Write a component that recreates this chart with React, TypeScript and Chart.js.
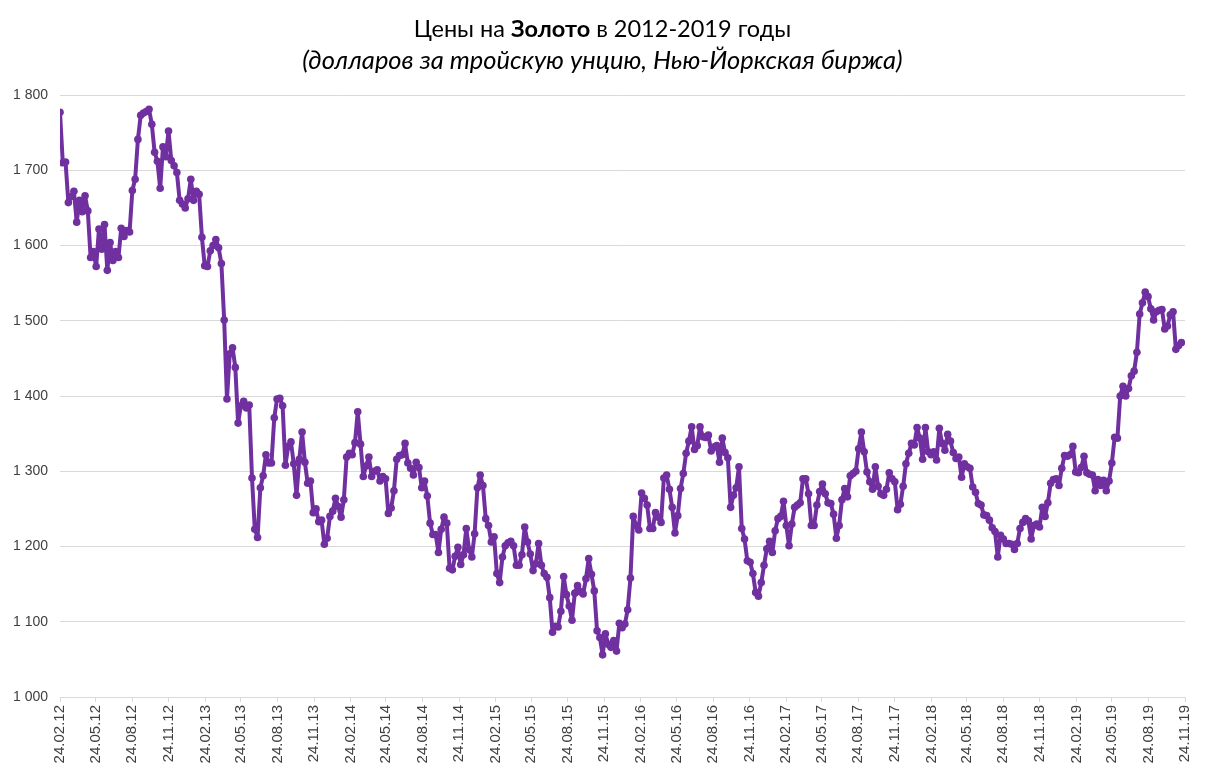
import React, { useEffect, useRef } from "react";
import { Chart, registerables } from "chart.js";

Chart.register(...registerables);

const START_DATE = "24.02.12";

const TICK_LABELS = [
  "24.02.12", "24.05.12", "24.08.12", "24.11.12",
  "24.02.13", "24.05.13", "24.08.13", "24.11.13",
  "24.02.14", "24.05.14", "24.08.14", "24.11.14",
  "24.02.15", "24.05.15", "24.08.15", "24.11.15",
  "24.02.16", "24.05.16", "24.08.16", "24.11.16",
  "24.02.17", "24.05.17", "24.08.17", "24.11.17",
  "24.02.18", "24.05.18", "24.08.18", "24.11.18",
  "24.02.19", "24.05.19", "24.08.19", "24.11.19",
];

const Y_TICKS = [1000, 1100, 1200, 1300, 1400, 1500, 1600, 1700, 1800];

// weekly gold price, USD per troy ounce
const PRICES_2012 = [
  1777, 1710, 1711, 1657, 1665, 1672, 1631, 1660, 1645, 1666,
  1646, 1584, 1592, 1572, 1622, 1595, 1628, 1567, 1604, 1580,
  1592, 1584, 1623, 1612, 1620, 1618, 1673, 1688, 1741, 1773,
  1776, 1778, 1781, 1761, 1724, 1712, 1676, 1731, 1718, 1752,
  1713, 1706, 1697, 1660, 1655, 1650, 1662, 1688, 1660, 1672,
  1668,
];
const PRICES_2013 = [
  1611, 1573, 1572, 1593, 1600, 1608, 1597, 1576, 1501, 1396,
  1456, 1464, 1438, 1364, 1387, 1393, 1384, 1388, 1291, 1223,
  1212, 1278, 1294, 1322, 1311, 1311, 1371, 1396, 1397, 1387,
  1308, 1333, 1339, 1310, 1268, 1316, 1352, 1312, 1284, 1287,
  1245, 1250, 1233, 1235, 1203, 1211, 1240, 1247, 1264, 1253,
];
const PRICES_2014 = [
  1239, 1262, 1319, 1324, 1322, 1338, 1379, 1336, 1293, 1307,
  1319, 1293, 1300, 1302, 1287, 1293, 1290, 1244, 1251, 1274,
  1316, 1321, 1322, 1337, 1311, 1304, 1295, 1312, 1305, 1278,
  1287, 1267, 1231, 1216, 1216, 1192, 1223, 1239, 1231, 1171,
  1169, 1187, 1199, 1176, 1189, 1224, 1196, 1186, 1217, 1278,
];
const PRICES_2015 = [
  1295, 1281, 1237, 1228, 1206, 1213, 1164, 1152, 1186, 1201,
  1205, 1207, 1201, 1175, 1175, 1189, 1226, 1206, 1190, 1168,
  1177, 1204, 1175, 1164, 1159, 1132, 1086, 1094, 1093, 1114,
  1160, 1136, 1121, 1102, 1138, 1148, 1140, 1137, 1157, 1184,
  1163, 1141, 1088, 1079, 1056, 1084, 1070, 1066, 1075, 1061,
];
const PRICES_2016 = [
  1098, 1092, 1097, 1116, 1158, 1240, 1228, 1222, 1271, 1264,
  1255, 1224, 1224, 1245, 1239, 1232, 1291, 1295, 1276, 1252,
  1218, 1241, 1277, 1297, 1324, 1340, 1359, 1329, 1334, 1359,
  1346, 1345, 1348, 1327, 1332, 1334, 1312, 1344, 1325, 1318,
  1252, 1268, 1278, 1306, 1224, 1210, 1181, 1179, 1164, 1139,
];
const PRICES_2017 = [
  1134, 1152, 1175, 1197, 1207, 1192, 1221, 1237, 1240, 1260,
  1228, 1201, 1230, 1252, 1255, 1258, 1290, 1290, 1270, 1228,
  1228, 1255, 1273, 1283, 1270, 1258, 1257, 1243, 1211, 1228,
  1262, 1277, 1266, 1294, 1297, 1300, 1330, 1352, 1326, 1299,
  1286, 1276, 1306, 1280, 1270, 1268, 1276, 1298, 1290, 1286,
];
const PRICES_2018 = [
  1249, 1256, 1280, 1310, 1324, 1337, 1335, 1358, 1344, 1316,
  1358, 1326, 1322, 1326, 1315, 1357, 1337, 1328, 1349, 1340,
  1325, 1317, 1319, 1292, 1310, 1306, 1304, 1279, 1272, 1257,
  1255, 1242, 1241, 1235, 1225, 1220, 1186, 1215, 1210, 1204,
  1204, 1203, 1196, 1204, 1224, 1232, 1237, 1234, 1210, 1228,
];
const PRICES_2019 = [
  1230, 1226, 1252, 1240, 1258, 1284, 1289, 1290, 1281, 1304,
  1321, 1320, 1322, 1333, 1299, 1298, 1305, 1320, 1298, 1296,
  1295, 1274, 1289, 1281, 1288, 1274, 1287, 1311, 1345, 1344,
  1400, 1413, 1400, 1410, 1427, 1433, 1458, 1509, 1524, 1538,
  1532, 1516, 1501, 1512, 1514, 1515, 1489, 1493, 1508, 1512,
  1462, 1467, 1471,
];

const PRICES = [
  ...PRICES_2012, ...PRICES_2013, ...PRICES_2014, ...PRICES_2015,
  ...PRICES_2016, ...PRICES_2017, ...PRICES_2018, ...PRICES_2019,
];

const DAYS_PER_POINT = 7;
const COLOR = "#7030A0";

function parseDay(label: string): number {
  const [d, m, y] = label.split(".").map(Number);
  return Date.UTC(2000 + y, m - 1, d) / 86400000;
}

function fmt(v: number): string {
  return String(v).replace(/\B(?=(\d{3})+(?!\d))/g, " ");
}

export default function App() {
  const ref = useRef<HTMLCanvasElement | null>(null);

  useEffect(() => {
    if (!ref.current) return;
    const start = parseDay(START_DATE);
    const tickDays = TICK_LABELS.map((l) => parseDay(l) - start);
    const points = PRICES.map((v, i) => ({ x: i * DAYS_PER_POINT, y: v }));

    const chart = new Chart(ref.current, {
      type: "line",
      data: {
        datasets: [
          {
            data: points,
            borderColor: COLOR,
            backgroundColor: COLOR,
            borderWidth: 4,
            borderJoinStyle: "round",
            borderCapStyle: "round",
            pointRadius: 3.8,
            pointBackgroundColor: COLOR,
            pointBorderColor: COLOR,
            pointBorderWidth: 0,
            tension: 0,
          },
        ],
      },
      options: {
        animation: false,
        responsive: false,
        layout: { padding: { top: 87, left: 0, right: 0, bottom: 0 } },
        plugins: {
          legend: { display: false },
          title: { display: false },
          tooltip: { enabled: false },
        },
        scales: {
          x: {
            type: "linear",
            min: 0,
            max: tickDays[tickDays.length - 1],
            afterBuildTicks: (scale: any) => {
              scale.ticks = tickDays.map((v) => ({ value: v }));
            },
            afterFit: (scale: any) => {
              scale.height = 76;
              scale.paddingRight = 12;
              scale.paddingLeft = 0;
            },
            ticks: {
              autoSkip: false,
              minRotation: 90,
              maxRotation: 90,
              color: "#404040",
              padding: 3,
              font: { family: "'Liberation Sans', Arial, sans-serif", size: 15 },
              callback: (_v: any, i: number) => TICK_LABELS[i],
            },
            grid: {
              drawOnChartArea: false,
              drawTicks: true,
              tickLength: 5,
              color: "#d9d9d9",
            },
            border: { color: "#d9d9d9", width: 1 },
          },
          y: {
            min: Y_TICKS[0],
            max: Y_TICKS[Y_TICKS.length - 1],
            afterBuildTicks: (scale: any) => {
              scale.ticks = Y_TICKS.map((v) => ({ value: v }));
            },
            afterFit: (scale: any) => {
              scale.width = 52;
            },
            ticks: {
              color: "#404040",
              padding: 12,
              font: { family: "'Liberation Sans', Arial, sans-serif", size: 14 },
              callback: (v: any) => fmt(Number(v)),
            },
            grid: { color: "#d9d9d9", drawTicks: false, lineWidth: 1 },
            border: { display: false },
          },
        },
      },
    });
    return () => chart.destroy();
  }, []);

  return (
    <div style={{ position: "relative", width: 1189, height: 765 }}>
      <div
        style={{
          position: "absolute",
          top: 5,
          left: 0,
          width: "100%",
          textAlign: "center",
          fontFamily: "Lato, 'Noto Sans', sans-serif",
          fontSize: 23.5,
          lineHeight: "30px",
          color: "#000",
        }}
      >
        Цены на <b>Золото</b> в 2012-2019 годы
      </div>
      <div
        style={{
          position: "absolute",
          top: 35,
          left: 0,
          width: "100%",
          textAlign: "center",
          fontFamily: "Lato, 'Noto Sans', sans-serif",
          fontStyle: "italic",
          fontSize: 25.5,
          lineHeight: "32px",
          color: "#000",
        }}
      >
        (долларов за тройскую унцию, Нью-Йоркская биржа)
      </div>
      <canvas ref={ref} width={1189} height={765} style={{ display: "block" }} />
    </div>
  );
}
